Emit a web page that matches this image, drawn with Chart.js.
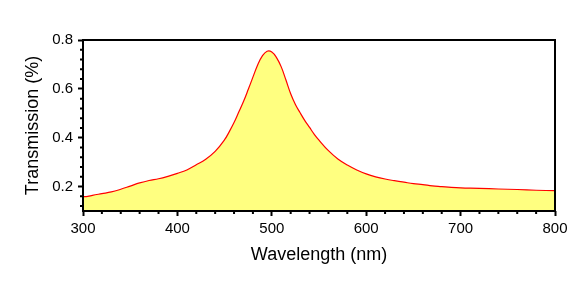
<!DOCTYPE html>
<html>
<head>
<meta charset="utf-8">
<script src="https://cdn.jsdelivr.net/npm/chart.js@4/dist/chart.umd.min.js"></script>
<style>
  html, body { margin: 0; padding: 0; background: #fff; }
  #wrap { width: 581px; height: 291px; }
</style>
</head>
<body>
<div id="wrap"><canvas id="chart"></canvas></div>
<script>
// values
let wavelengths = [300, 305, 310, 320, 330, 340, 350, 360, 370, 380, 390, 400,
  410, 420, 430, 440, 450, 455, 460, 465, 470, 475, 480, 485, 490, 495, 500,
  505, 510, 515, 520, 525, 530, 535, 540, 545, 550, 560, 570, 580, 590, 600,
  610, 620, 630, 640, 650, 660, 670, 680, 690, 700, 720, 740, 760, 780, 800];
let transmission = [0.158, 0.160, 0.164, 0.171, 0.178, 0.189, 0.202, 0.215,
  0.225, 0.232, 0.242, 0.254, 0.268, 0.289, 0.312, 0.344, 0.392, 0.425, 0.462,
  0.505, 0.548, 0.597, 0.648, 0.698, 0.735, 0.754, 0.751, 0.728, 0.690, 0.636,
  0.580, 0.536, 0.502, 0.470, 0.442, 0.414, 0.390, 0.347, 0.313, 0.288, 0.268,
  0.252, 0.240, 0.231, 0.224, 0.218, 0.212, 0.208, 0.203, 0.200, 0.197, 0.195,
  0.193, 0.190, 0.188, 0.185, 0.183];
let xTicks = [300, 400, 500, 600, 700, 800];
let yTicks = [0.2, 0.4, 0.6, 0.8];
let xMinor = [320, 340, 360, 380, 420, 440, 460, 480, 520, 540, 560, 580,
  620, 640, 660, 680, 720, 740, 760, 780];
let yMinor = [0.12, 0.16, 0.24, 0.28, 0.32, 0.36, 0.44, 0.48, 0.52, 0.56,
  0.64, 0.68, 0.72, 0.76];

let points = wavelengths.map((w, i) => ({ x: w, y: transmission[i] }));
let fontName = "'Liberation Sans', Arial, sans-serif";

// frame round the plot plus small minor ticks
let framePlugin = {
  id: "frame",
  afterDraw(chart) {
    let ctx = chart.ctx;
    let a = chart.chartArea;
    let xs = chart.scales.x;
    let ys = chart.scales.y;
    ctx.save();
    ctx.strokeStyle = "#000";
    ctx.lineWidth = 2;
    ctx.strokeRect(a.left, a.top, a.right - a.left, a.bottom - a.top);
    ctx.beginPath();
    xMinor.forEach(v => {
      let px = xs.getPixelForValue(v);
      ctx.moveTo(px, a.bottom);
      ctx.lineTo(px, a.bottom + 3);
    });
    yMinor.forEach(v => {
      let py = ys.getPixelForValue(v);
      ctx.moveTo(a.left, py);
      ctx.lineTo(a.left - 3, py);
    });
    ctx.stroke();
    ctx.restore();
  }
};

let ctx = document.getElementById("chart").getContext("2d");
let chart = new Chart(ctx, {
  type: "line",
  data: {
    datasets: [
      {
        data: points,
        borderColor: "#ff0000",
        borderWidth: 1.2,
        backgroundColor: "#ffff80",
        fill: "start",
        pointRadius: 0,
        tension: 0.4,
      },
    ],
  },
  options: {
    responsive: true,
    maintainAspectRatio: false,
    animation: false,
    layout: { padding: { left: 0, top: 40, right: 26, bottom: 0 } },
    plugins: { legend: { display: false }, tooltip: { enabled: false } },
    scales: {
      x: {
        type: "linear",
        min: 300,
        max: 800,
        afterFit(scale) { scale.height = 80; },
        afterBuildTicks(scale) { scale.ticks = xTicks.map(v => ({ value: v })); },
        grid: { drawOnChartArea: false, tickLength: 5, tickWidth: 2, tickColor: "#000" },
        border: { display: false },
        ticks: { color: "#000", padding: 4, maxRotation: 0, font: { family: fontName, size: 15 } },
        title: {
          display: true,
          text: "Wavelength (nm)",
          color: "#000",
          font: { family: fontName, size: 18 },
          padding: { top: 0, bottom: 25 },
        },
      },
      y: {
        min: 0.1,
        max: 0.8,
        afterFit(scale) { scale.width = 83; },
        afterBuildTicks(scale) { scale.ticks = yTicks.map(v => ({ value: v })); },
        grid: { drawOnChartArea: false, tickLength: 5, tickWidth: 2, tickColor: "#000" },
        border: { display: false },
        ticks: {
          color: "#000",
          padding: 5,
          font: { family: fontName, size: 15 },
          callback: v => v.toFixed(1),
        },
        title: {
          display: true,
          text: "Transmission (%)",
          color: "#000",
          font: { family: fontName, size: 18 },
          padding: { top: 22, bottom: 0 },
        },
      },
    },
  },
  plugins: [framePlugin],
});
</script>
</body>
</html>
